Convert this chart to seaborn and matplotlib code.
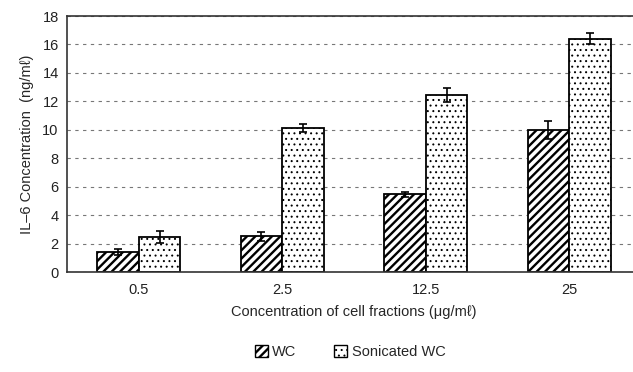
import pandas as pd
import matplotlib
matplotlib.use('Agg')
import matplotlib.pyplot as plt
from matplotlib.patches import Patch
import seaborn as sns

# Values
doses = ['0.5', '2.5', '12.5', '25']
wc_mean = [1.4, 2.5, 5.45, 10.0]
wc_err = [0.2, 0.3, 0.2, 0.65]
son_mean = [2.45, 10.1, 12.45, 16.4]
son_err = [0.4, 0.28, 0.5, 0.4]
groups = ['WC', 'Sonicated WC']

df = pd.DataFrame({
    'dose': doses * 2,
    'value': wc_mean + son_mean,
    'err': wc_err + son_err,
    'group': [groups[0]] * 4 + [groups[1]] * 4,
})

sns.set_style('white')
plt.rcParams['font.family'] = ['Liberation Sans', 'DejaVu Sans']
plt.rcParams['hatch.linewidth'] = 1.6

fig = plt.figure(figsize=(6.33, 3.72), dpi=100)
ax = fig.add_axes([67 / 633, 1 - 272 / 372, 574 / 633, 256 / 372])

sns.barplot(data=df, x='dose', y='value', hue='group', order=doses,
            hue_order=groups, palette=['white', 'white'], width=0.58,
            edgecolor='black', linewidth=1.3, errorbar=None, ax=ax,
            legend=False)

hatches = ['////', '...']
hatch_lw = [1.7, 0.7]
errs = [wc_err, son_err]
means = [wc_mean, son_mean]


def style_hatch(p, h, lw):
    p.set_hatch(h)
    if hasattr(p, 'set_hatch_linewidth'):
        p.set_hatch_linewidth(lw)
    else:
        p._hatch_linewidth = lw


for cont, h, lw, e, m in zip(ax.containers, hatches, hatch_lw, errs, means):
    xs = []
    for bar in cont:
        style_hatch(bar, h, lw)
        xs.append(bar.get_x() + bar.get_width() / 2)
    ax.errorbar(xs, m, yerr=e, fmt='none', ecolor='black', elinewidth=1.2,
                capsize=3, capthick=1.2, zorder=5)

ax.set_ylim(0, 18)
ax.set_xlim(-0.5, 3.5)
ax.set_yticks(range(0, 19, 2))
ax.yaxis.grid(True, linestyle=(0, (3, 4)), color='#777777', linewidth=0.8)
ax.set_axisbelow(True)
for s in ax.spines.values():
    s.set_color('#333333')
    s.set_linewidth(1.2)
ax.tick_params(axis='both', length=0, labelsize=10.5, colors='#222222', pad=8)
ax.tick_params(axis='y', pad=6)
ax.set_xlabel('Concentration of cell fractions (\u03bcg/m\u2113)', fontsize=10.5,
              labelpad=6)
ax.set_ylabel('IL\u20136 Concentration  (ng/m\u2113)', fontsize=10.5, labelpad=6)

handles = [Patch(facecolor='white', edgecolor='black', label='WC'),
           Patch(facecolor='white', edgecolor='black', label='Sonicated WC')]
leg = fig.legend(handles=handles, loc='center',
                 bbox_to_anchor=(350 / 633, 1 - 352 / 372),
                 ncol=2, frameon=False, fontsize=10.5, handlelength=0.9,
                 handleheight=0.9, handletextpad=0.3, columnspacing=2.6)
for p, h, lw in zip(leg.get_patches(), hatches, hatch_lw):
    style_hatch(p, h, lw)

fig.savefig('out.png', dpi=100)
